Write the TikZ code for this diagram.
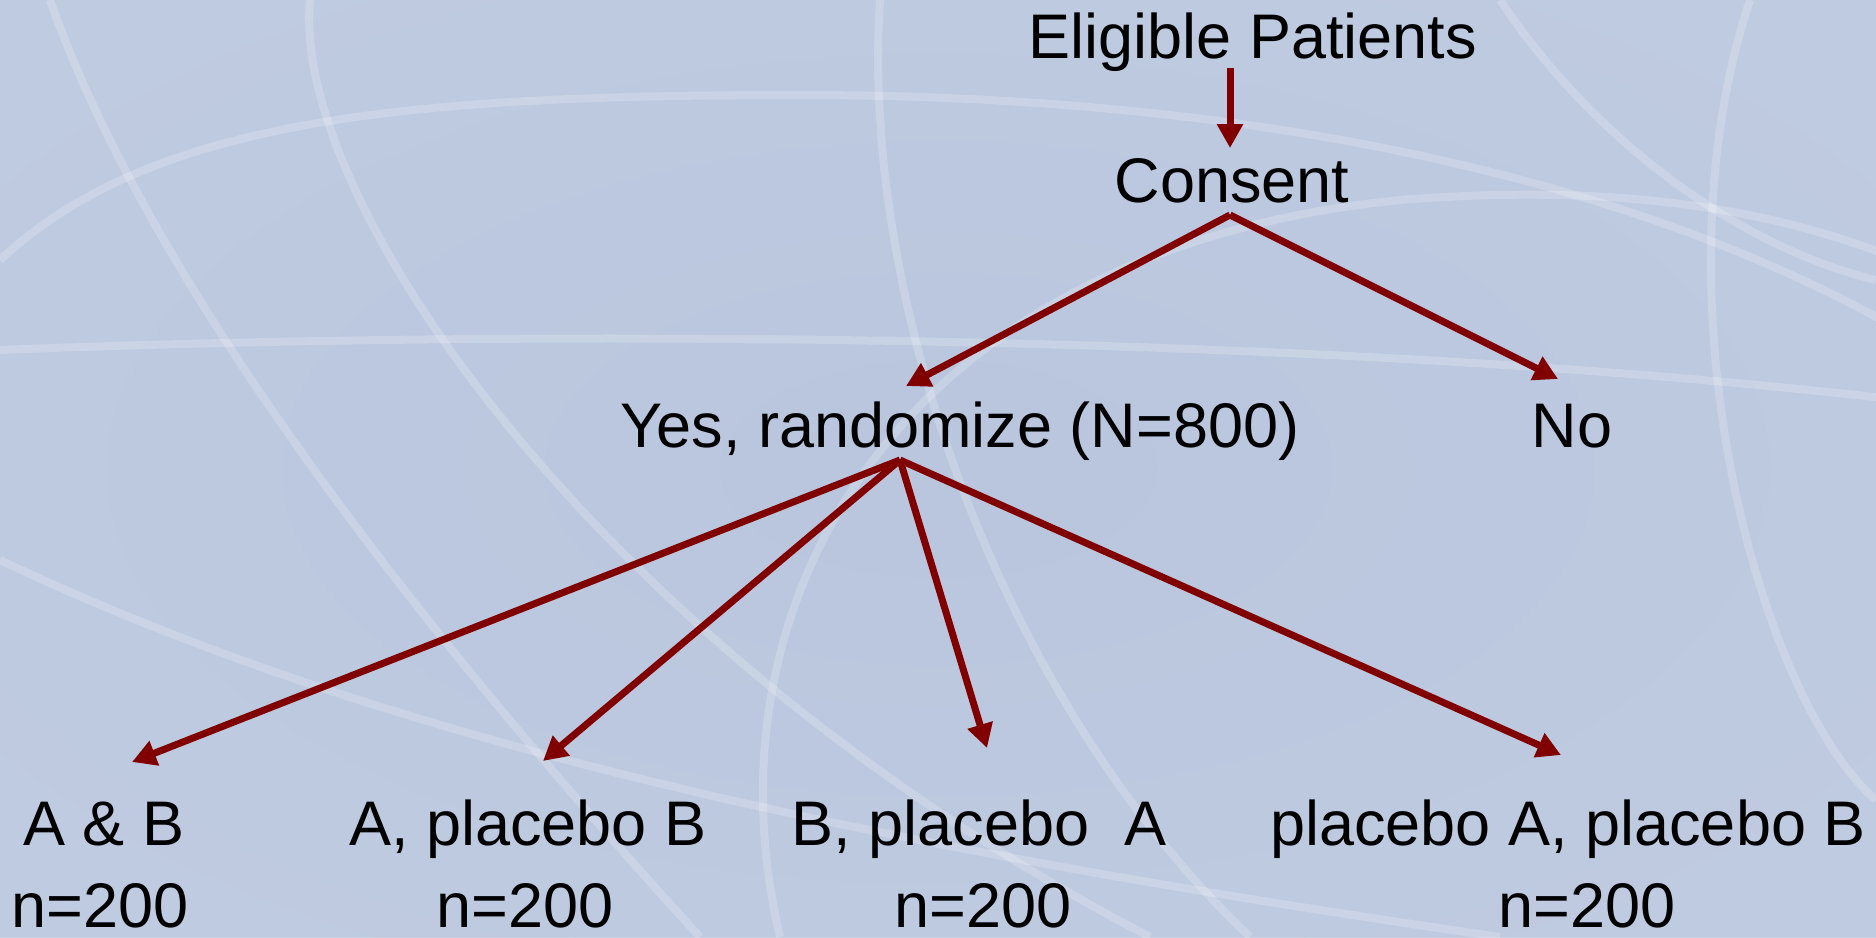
\documentclass[tikz,border=0pt]{standalone}
\usepackage{fontspec}
\setmainfont{Liberation Sans}
\usetikzlibrary{arrows.meta}
\definecolor{bgc}{HTML}{B9C6DE}
\definecolor{bgl}{HTML}{C9D3E4}
\definecolor{arrc}{HTML}{800000}
\tikzset{
  lbl/.style={anchor=base, inner sep=0pt, font=\fontsize{63}{75}\selectfont, text=black},
  arr/.style={draw=arrc, line width=7pt, -{Triangle[length=24pt,width=25pt]}},
  swirl/.style={draw=white, opacity=0.2, line width=8pt},
}
\begin{document}
\begin{tikzpicture}[x=1pt,y=-1pt]
\useasboundingbox (0,0) rectangle (1876,937);
% background
\shade[inner color=bgc, outer color=bgl] (-200,-100) rectangle (2076,1037);
\fill[bgc, opacity=0.6] (0,0) rectangle (1876,937);
\begin{scope}
\clip (0,0) rectangle (1876,937);
\draw[swirl] (0,260) .. controls (150,120) and (400,95) .. (800,95) .. controls (1200,95) and (1600,160) .. (1900,330);
\draw[swirl] (50,0) .. controls (120,200) and (300,500) .. (700,937);
\draw[swirl] (310,0) .. controls (290,200) and (600,650) .. (1150,937);
\draw[swirl] (0,350) .. controls (500,330) and (1300,330) .. (1900,400);
\draw[swirl] (880,0) .. controls (860,300) and (1000,700) .. (1250,937);
\draw[swirl] (1750,0) .. controls (1650,300) and (1760,700) .. (1876,800);
\draw[swirl] (0,560) .. controls (400,750) and (900,850) .. (1500,937);
\draw[swirl] (780,937) .. controls (700,600) and (900,250) .. (1400,200) .. controls (1650,180) and (1800,220) .. (1900,260);
\draw[swirl] (1500,0) .. controls (1600,150) and (1750,250) .. (1876,280);
\end{scope}
% nodes
\node[lbl] (elig) at (1253,58) {Eligible Patients};
\node[lbl] (consent) at (1232,202) {Consent};
\node[lbl] (yes) at (960,447) {Yes, randomize (N=800)};
\node[lbl] (no) at (1572,447) {No};
\node[lbl] (ab) at (104,845) {A \& B};
\node[lbl] (apb) at (528,845) {A, placebo B};
\node[lbl] (bpa) at (979,845) {B, placebo\ \ A};
\node[lbl] (papb) at (1568,845) {placebo A, placebo B};
\node[lbl] (n1) at (100,927) {n=200};
\node[lbl] (n2) at (525,927) {n=200};
\node[lbl] (n3) at (983,927) {n=200};
\node[lbl] (n4) at (1587,927) {n=200};
% connectors
\draw[arr] ([shift={(-23,10)}]elig.base) -- ([shift={(-2,-54)}]consent.base);
\draw[arr] ([shift={(-2,13)}]consent.base) -- ([shift={(-54,-61)}]yes.base);
\draw[arr] ([shift={(-2,13)}]consent.base) -- ([shift={(-14,-68)}]no.base);
\draw[arr] ([shift={(-60,13)}]yes.base) -- ([shift={(28,-83)}]ab.base);
\draw[arr] ([shift={(-60,13)}]yes.base) -- ([shift={(15,-84)}]apb.base);
\draw[arr] ([shift={(-60,13)}]yes.base) -- ([shift={(8,-97)}]bpa.base);
\draw[arr] ([shift={(-60,13)}]yes.base) -- ([shift={(-7,-90)}]papb.base);
\end{tikzpicture}
\end{document}
